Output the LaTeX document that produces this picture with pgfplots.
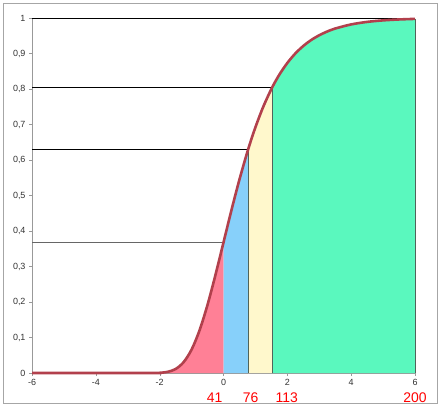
\documentclass[border=0pt]{standalone}
\usepackage{fontspec}
\setmainfont{Liberation Sans}
\usepackage{pgfplots}
\pgfplotsset{compat=1.18}
\definecolor{pinkfill}{RGB}{255,128,150}
\definecolor{bluefill}{RGB}{135,208,250}
\definecolor{yellowfill}{RGB}{255,248,204}
\definecolor{greenfill}{RGB}{90,248,190}
\definecolor{curvered}{RGB}{178,64,76}
\definecolor{edge}{RGB}{80,100,90}
\begin{document}
\begin{tikzpicture}
\begin{axis}[
    scale only axis,
    width=383bp, height=355bp,
    xmin=-6, xmax=6,
    ymin=0, ymax=1,
    axis lines*=left,
    axis line style={draw=gray!80, line width=0.8bp},
    xtick={-6,-4,-2,0,2,4,6},
    ytick={0,0.1,0.2,0.3,0.4,0.5,0.6,0.7,0.8,0.9,1},
    tick align=outside,
    major tick length=3bp,
    tick style={draw=gray!80},
    yticklabel style={/pgf/number format/.cd, use comma, fixed, precision=1},
    /pgf/number format/assume math mode=true,
    ticklabel style={font=\fontsize{9}{10}\selectfont, text=black!80},
    clip=false,
]
% segments under the curve
\addplot[fill=pinkfill, draw=none] coordinates {
  (-6,0)(-2,0.0006)(-1.75,0.0032)(-1.5,0.0113)(-1.25,0.0305)(-1,0.0660)
  (-0.75,0.1204)(-0.5,0.1923)(-0.25,0.2769)(0,0.3679)
} \closedcycle;
\addplot[fill=bluefill, draw=none] coordinates {
  (0,0.3679)(0.25,0.4590)(0.5,0.5452)(0.77,0.6294)
} \closedcycle;
\addplot[fill=yellowfill, draw=none] coordinates {
  (0.77,0.6294)(1,0.6922)(1.25,0.7509)(1.52,0.8036)
} \closedcycle;
\addplot[fill=greenfill, draw=none] coordinates {
  (1.52,0.8036)(1.75,0.8405)(2,0.8734)(2.25,0.9000)(2.5,0.9212)(2.75,0.9381)
  (3,0.9514)(3.25,0.9620)(3.5,0.9703)(4,0.9819)(4.5,0.9890)(5,0.9933)(5.5,0.9959)(6,0.9975)
} \closedcycle;
% edges of the segments
\addplot[edge, line width=0.9bp] coordinates {(0.77,0)(0.77,0.6294)};
\addplot[edge, line width=0.9bp] coordinates {(1.52,0)(1.52,0.8036)};
\addplot[edge, line width=0.9bp] coordinates {(6,0)(6,0.9975)};
% horizontal reading lines
\addplot[gray!80!black, line width=1.3bp] coordinates {(-6,0.3679)(0,0.3679)};
\addplot[black, line width=0.8bp] coordinates {(-6,0.6294)(0.77,0.6294)};
\addplot[black, line width=0.8bp] coordinates {(-6,0.8036)(1.52,0.8036)};
\addplot[black, line width=0.8bp] coordinates {(-6,1)(6,1)};
% distribution curve
\addplot[curvered, line width=2.6bp, smooth] coordinates {
  (-6,0)(-2.25,0)(-2,0.0006)(-1.75,0.0032)(-1.5,0.0113)(-1.25,0.0305)(-1,0.0660)
  (-0.75,0.1204)(-0.5,0.1923)(-0.25,0.2769)(0,0.3679)(0.25,0.4590)(0.5,0.5452)
  (0.77,0.6294)(1,0.6922)(1.25,0.7509)(1.52,0.8036)(1.75,0.8405)(2,0.8734)
  (2.25,0.9000)(2.5,0.9212)(2.75,0.9381)(3,0.9514)(3.25,0.9620)(3.5,0.9703)
  (4,0.9819)(4.5,0.9890)(5,0.9933)(5.5,0.9959)(6,0.9975)
};
% counts under the segments
\node[red, font=\fontsize{14}{16}\selectfont] at (axis cs:-0.28,-0.07) {41};
\node[red, font=\fontsize{14}{16}\selectfont] at (axis cs:0.85,-0.07) {76};
\node[red, font=\fontsize{14}{16}\selectfont] at (axis cs:1.98,-0.07) {113};
\node[red, font=\fontsize{14}{16}\selectfont] at (axis cs:6,-0.07) {200};
\coordinate (sw) at (rel axis cs:0,0);
\coordinate (ne) at (rel axis cs:1,1);
\end{axis}
\draw[gray!70, line width=0.8bp] ([shift={(-29bp,-30bp)}]sw) rectangle ([shift={(22bp,15bp)}]ne);
\path[use as bounding box] ([shift={(-32bp,-38bp)}]sw) rectangle ([shift={(29bp,18bp)}]ne);
\end{tikzpicture}
\end{document}
